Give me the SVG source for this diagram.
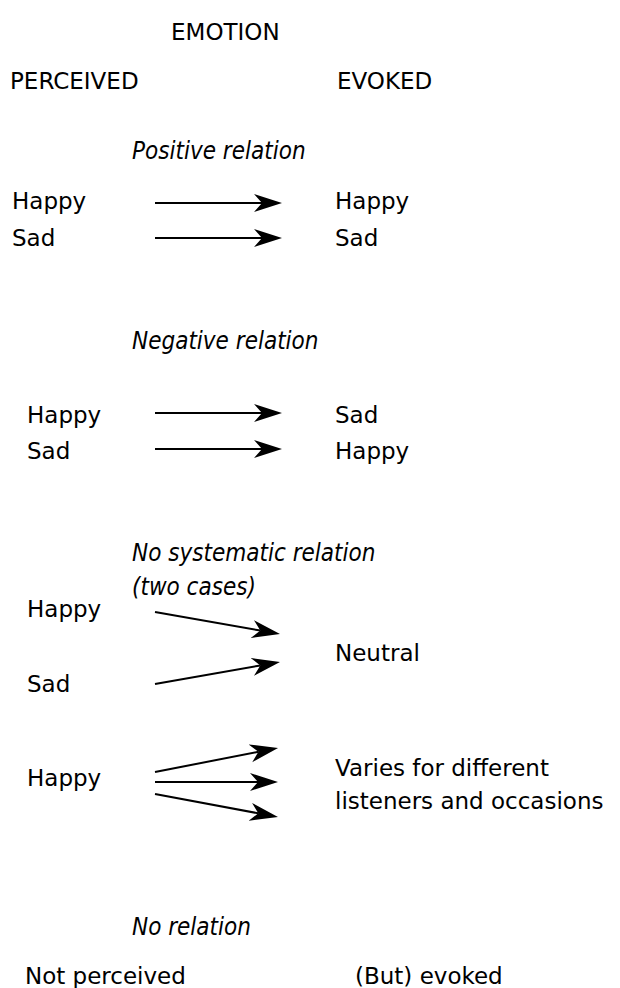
<svg xmlns="http://www.w3.org/2000/svg" width="620" height="988" viewBox="0 0 620 988">
<style>
text{font-family:"DejaVu Sans",sans-serif;font-size:23px;fill:#000}
.it{font-family:"DejaVu Sans Condensed","DejaVu Sans",sans-serif;font-stretch:condensed;font-style:italic;font-size:24px}
.c line{stroke:#000;stroke-width:2;fill:none;marker-end:url(#ah)}
</style>
<defs>
<marker id="ah" markerUnits="userSpaceOnUse" viewBox="0 0 30 20" markerWidth="30" markerHeight="20" refX="8" refY="10" orient="auto">
<path d="M28,10 L0,1 L8,10 L0,19 Z" fill="#000"/>
</marker>
</defs>
<rect width="620" height="988" fill="#fff"/>
<g id="h-emotion"><text x="171" y="40">EMOTION</text></g>
<g id="h-perceived"><text x="10" y="89">PERCEIVED</text></g>
<g id="h-evoked"><text x="337" y="89">EVOKED</text></g>

<g id="t-positive"><text class="it" x="132" y="159">Positive relation</text></g>
<g id="p1-happy-l"><text x="12" y="209">Happy</text></g>
<g id="p1-sad-l"><text x="12" y="246">Sad</text></g>
<g id="p1-happy-r"><text x="335" y="209">Happy</text></g>
<g id="p1-sad-r"><text x="335" y="246">Sad</text></g>

<g id="t-negative"><text class="it" x="132" y="349">Negative relation</text></g>
<g id="n-happy-l"><text x="27" y="423">Happy</text></g>
<g id="n-sad-l"><text x="27" y="459">Sad</text></g>
<g id="n-sad-r"><text x="335" y="423">Sad</text></g>
<g id="n-happy-r"><text x="335" y="459">Happy</text></g>

<g id="t-nosys"><text class="it" x="132" y="561">No systematic relation</text><text class="it" x="132" y="595">(two cases)</text></g>
<g id="s-happy"><text x="27" y="617">Happy</text></g>
<g id="s-sad"><text x="27" y="692">Sad</text></g>
<g id="s-neutral"><text x="335" y="661">Neutral</text></g>
<g id="v-happy"><text x="27" y="786">Happy</text></g>
<g id="v-varies"><text x="335" y="776">Varies for different</text><text x="335" y="809">listeners and occasions</text></g>

<g id="t-norel"><text class="it" x="132" y="935">No relation</text></g>
<g id="r-notperceived"><text x="25" y="984">Not perceived</text></g>
<g id="r-evoked"><text x="355" y="984">(But) evoked</text></g>

<g id="connectors" class="c">
<line x1="155" y1="203" x2="262" y2="203"/>
<line x1="155" y1="238" x2="262" y2="238"/>
<line x1="155" y1="413" x2="262" y2="413"/>
<line x1="155" y1="449" x2="262" y2="449"/>
<line x1="155" y1="612" x2="260.3" y2="630.5"/>
<line x1="155" y1="684" x2="260.3" y2="665.5"/>
<line x1="155" y1="772" x2="258.4" y2="751.8"/>
<line x1="155" y1="782" x2="258" y2="782"/>
<line x1="155" y1="794" x2="258.3" y2="813.3"/>
</g>
</svg>
